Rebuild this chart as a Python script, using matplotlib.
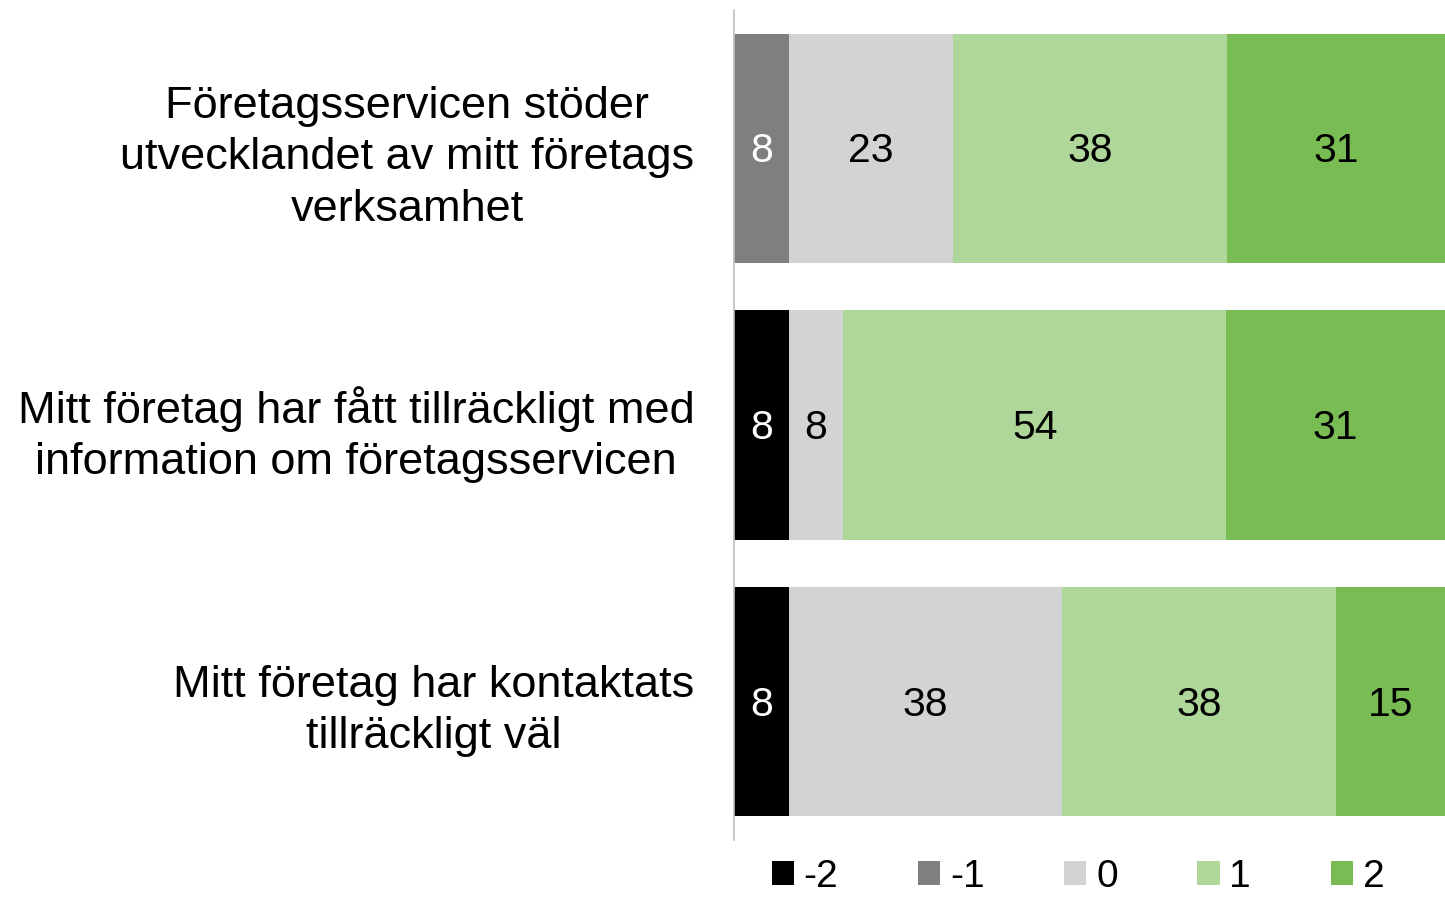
import matplotlib
matplotlib.use("Agg")
import matplotlib.pyplot as plt
from matplotlib.patches import Patch
from matplotlib.transforms import ScaledTranslation
import numpy as np

plt.rcParams['font.family'] = ['Liberation Sans', 'DejaVu Sans']

categories = [
    "Företagsservicen stöder\nutvecklandet av mitt företags\nverksamhet",
    "Mitt företag har fått tillräckligt med\ninformation om företagsservicen",
    "Mitt företag har kontaktats\ntillräckligt väl",
]
series_names = ["-2", "-1", "0", "1", "2"]
values = {
    "-2": [0.0, 7.7, 7.7],
    "-1": [7.7, 0.0, 0.0],
    "0": [23.1, 7.7, 38.5],
    "1": [38.5, 53.8, 38.5],
    "2": [30.8, 30.8, 15.4],
}
colors = {"-2": "#000000", "-1": "#7f7f7f", "0": "#d3d3d3", "1": "#aed799", "2": "#79bc54"}
text_colors = {"-2": "white", "-1": "white", "0": "black", "1": "black", "2": "black"}

fig = plt.figure(figsize=(14.45, 8.98), dpi=100)
ax = fig.add_axes([734/1445, 1 - 840/898, 711/1445, 830/898])

down = ScaledTranslation(0, -3/100, fig.dpi_scale_trans)
up = ScaledTranslation(0, 7/100, fig.dpi_scale_trans)

y = np.arange(len(categories))
left = np.zeros(len(categories))
for s in series_names:
    v = np.array(values[s])
    ax.barh(y, v, left=left, height=0.83, color=colors[s], edgecolor='none')
    for i, val in enumerate(v):
        if val > 0:
            ax.text(left[i] + val / 2, y[i], f"{val:.0f}", ha='center', va='center',
                    fontsize=29.5, color=text_colors[s], transform=ax.transData + down)
    left += v

ax.set_xlim(0, 100)
ax.set_ylim(2.5, -0.5)
ax.set_yticks(y)
ax.set_yticklabels(categories, fontsize=32.5, multialignment='center', linespacing=1.32)
for lab in ax.get_yticklabels():
    lab.set_transform(lab.get_transform() + up)
ax.tick_params(axis='y', length=0, pad=28.5)
ax.set_xticks([])
for sp in ['top', 'right', 'bottom']:
    ax.spines[sp].set_visible(False)
ax.spines['left'].set_color('#bfbfbf')
ax.spines['left'].set_linewidth(1.2)

handles = [Patch(facecolor=colors[s], edgecolor='none') for s in series_names]
fig.legend(handles, series_names, loc='center', bbox_to_anchor=(1078/1445, 1 - 877/898),
           ncol=5, frameon=False, fontsize=28, handlelength=0.57, handleheight=0.57,
           handletextpad=0.25, columnspacing=2.05, borderpad=0.1)

fig.savefig("out.png", dpi=100)
